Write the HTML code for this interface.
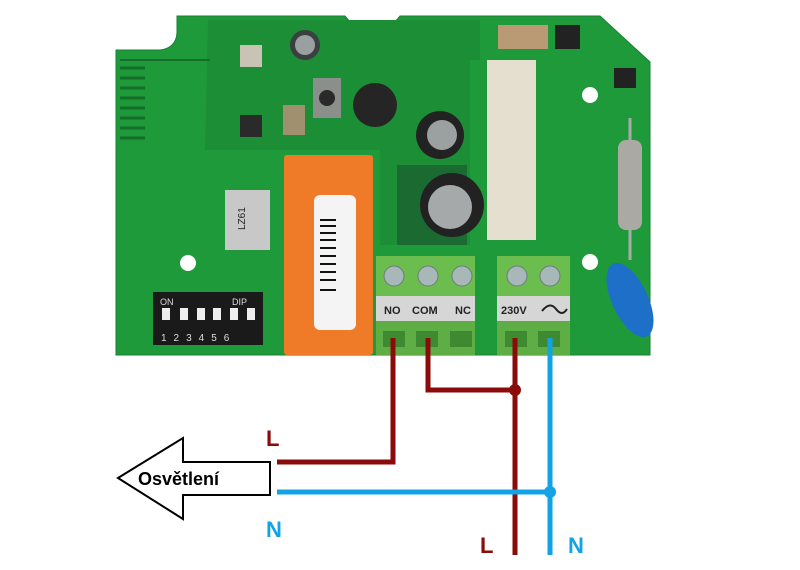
<!DOCTYPE html>
<html><head><meta charset="utf-8"><style>
html,body{margin:0;padding:0;background:#fff;width:800px;height:570px;overflow:hidden}
svg{display:block}
</style></head><body>
<svg width="800" height="570" viewBox="0 0 800 570" xmlns="http://www.w3.org/2000/svg">
<path d="M116,50 L160,50 Q176,48 177,33 L177,16 L345,16 L350,22 L395,22 L400,16 L600,16 L650,62 L650,355 L116,355 Z" fill="#1f9a3a" stroke="#178030" stroke-width="1"/>
<path d="M208,20 L480,20 L480,60 L470,60 L470,245 L380,245 L380,150 L205,150 Z" fill="#1c8e36"/>
<g stroke="#146e2a" stroke-width="3">
<line x1="120" y1="68" x2="145" y2="68"/><line x1="120" y1="78" x2="145" y2="78"/><line x1="120" y1="88" x2="145" y2="88"/><line x1="120" y1="98" x2="145" y2="98"/><line x1="120" y1="108" x2="145" y2="108"/><line x1="120" y1="118" x2="145" y2="118"/><line x1="120" y1="128" x2="145" y2="128"/><line x1="120" y1="138" x2="145" y2="138"/>
</g>
<line x1="120" y1="60" x2="210" y2="60" stroke="#146e2a" stroke-width="2"/>
<circle cx="188" cy="263" r="8" fill="#fff"/>
<circle cx="590" cy="95" r="8" fill="#fff"/>
<circle cx="590" cy="262" r="8" fill="#fff"/>
<circle cx="305" cy="45" r="15" fill="#3a3f40"/><circle cx="305" cy="45" r="10" fill="#9aa0a0"/>
<rect x="313" y="78" width="28" height="40" fill="#8a8f8c"/><circle cx="327" cy="98" r="8" fill="#2a2a2a"/>
<circle cx="375" cy="105" r="22" fill="#252525"/>
<rect x="283" y="105" width="22" height="30" fill="#a09070"/>
<rect x="240" y="115" width="22" height="22" fill="#2a2a2a"/>
<rect x="240" y="45" width="22" height="22" fill="#c9c3b5"/>
<circle cx="440" cy="135" r="24" fill="#222"/><circle cx="442" cy="135" r="15" fill="#9ba0a0"/>
<rect x="397" y="165" width="70" height="80" fill="#17292a" opacity="0.35"/>
<circle cx="452" cy="205" r="32" fill="#222"/><circle cx="450" cy="207" r="22" fill="#a5a9aa"/>
<rect x="487" y="60" width="49" height="180" fill="#e5dfd0"/>
<rect x="498" y="25" width="50" height="24" fill="#b99a74"/>
<rect x="555" y="25" width="25" height="24" fill="#222"/>
<rect x="614" y="68" width="22" height="20" fill="#222"/>
<line x1="630" y1="118" x2="630" y2="260" stroke="#aaa" stroke-width="3"/>
<rect x="618" y="140" width="24" height="90" rx="8" fill="#aaa9a3"/>
<ellipse cx="630" cy="300" rx="18" ry="40" transform="rotate(-25 630 300)" fill="#1e6fc8"/>
<rect x="225" y="190" width="45" height="60" fill="#c8c8c8"/>
<text x="0" y="0" transform="translate(245,230) rotate(-90)" font-family="Liberation Sans,sans-serif" font-size="10" fill="#222">LZ61</text>
<rect x="153" y="292" width="110" height="53" fill="#1a1a1a"/>
<g fill="#eee"><rect x="162" y="308" width="8" height="12"/><rect x="180" y="308" width="8" height="12"/><rect x="197" y="308" width="8" height="12"/><rect x="213" y="308" width="8" height="12"/><rect x="230" y="308" width="8" height="12"/><rect x="247" y="308" width="8" height="12"/></g>
<text x="160" y="305" font-family="Liberation Sans,sans-serif" font-size="9" fill="#ddd">ON</text>
<text x="232" y="305" font-family="Liberation Sans,sans-serif" font-size="9" fill="#ddd">DIP</text>
<text x="161" y="341" font-family="Liberation Sans,sans-serif" font-size="10" fill="#ddd" letter-spacing="7">123456</text>
<rect x="284" y="155" width="89" height="200" rx="3" fill="#ef7a28"/>
<rect x="314" y="195" width="42" height="135" rx="6" fill="#f4f4f4"/>
<g stroke="#111" stroke-width="2"><line x1="320" y1="220" x2="336" y2="220"/><line x1="320" y1="226" x2="336" y2="226"/><line x1="320" y1="233" x2="336" y2="233"/><line x1="320" y1="240" x2="336" y2="240"/><line x1="320" y1="248" x2="336" y2="248"/><line x1="320" y1="256" x2="336" y2="256"/><line x1="320" y1="264" x2="336" y2="264"/><line x1="320" y1="272" x2="336" y2="272"/><line x1="320" y1="280" x2="336" y2="280"/><line x1="320" y1="290" x2="336" y2="290"/></g>
<rect x="376" y="256" width="99" height="40" fill="#6bbd4e"/>
<rect x="376" y="296" width="99" height="25" fill="#d6d6d6"/>
<rect x="376" y="321" width="99" height="34" fill="#5fae45"/>
<g fill="#a8b8b8" stroke="#6c7c7c"><circle cx="394" cy="276" r="10"/><circle cx="428" cy="276" r="10"/><circle cx="462" cy="276" r="10"/></g>
<g fill="#3f8a30"><rect x="383" y="331" width="22" height="16"/><rect x="416" y="331" width="22" height="16"/><rect x="450" y="331" width="22" height="16"/></g>
<g font-family="Liberation Sans,sans-serif" font-size="11" font-weight="bold" fill="#222">
<text x="384" y="314">NO</text><text x="412" y="314">COM</text><text x="455" y="314">NC</text>
</g>
<rect x="497" y="256" width="73" height="40" fill="#6bbd4e"/>
<rect x="497" y="296" width="73" height="25" fill="#d6d6d6"/>
<rect x="497" y="321" width="73" height="34" fill="#5fae45"/>
<g fill="#a8b8b8" stroke="#6c7c7c"><circle cx="517" cy="276" r="10"/><circle cx="550" cy="276" r="10"/></g>
<g fill="#3f8a30"><rect x="505" y="331" width="22" height="16"/><rect x="538" y="331" width="22" height="16"/></g>
<text x="501" y="314" font-family="Liberation Sans,sans-serif" font-size="11" font-weight="bold" fill="#222">230V</text>
<path d="M542,311 Q550,301 556,309 Q562,317 567,309" stroke="#222" stroke-width="2" fill="none"/>
<g fill="none" stroke="#8b0a0a" stroke-width="5">
<polyline points="393,338 393,462 277,462"/>
<polyline points="428,338 428,390 515,390"/>
<line x1="515" y1="338" x2="515" y2="555"/>
</g>
<circle cx="515" cy="390" r="6" fill="#8b0a0a"/>
<g fill="none" stroke="#12a3e6" stroke-width="5">
<line x1="550" y1="338" x2="550" y2="555"/>
<line x1="277" y1="492" x2="550" y2="492"/>
</g>
<circle cx="550" cy="492" r="6" fill="#12a3e6"/>
<path d="M118,478 L183,438 L183,462 L270,462 L270,495 L183,495 L183,519 Z" fill="#fff" stroke="#000" stroke-width="2"/>
<text x="138" y="485" font-family="Liberation Sans,sans-serif" font-size="18" font-weight="bold" fill="#000">Osvětlení</text>
<g font-family="Liberation Sans,sans-serif" font-size="22" font-weight="bold">
<text x="266" y="446" fill="#8b0a0a">L</text>
<text x="266" y="537" fill="#12a3e6">N</text>
<text x="480" y="553" fill="#8b0a0a">L</text>
<text x="568" y="553" fill="#12a3e6">N</text>
</g>
</svg>
</body></html>
